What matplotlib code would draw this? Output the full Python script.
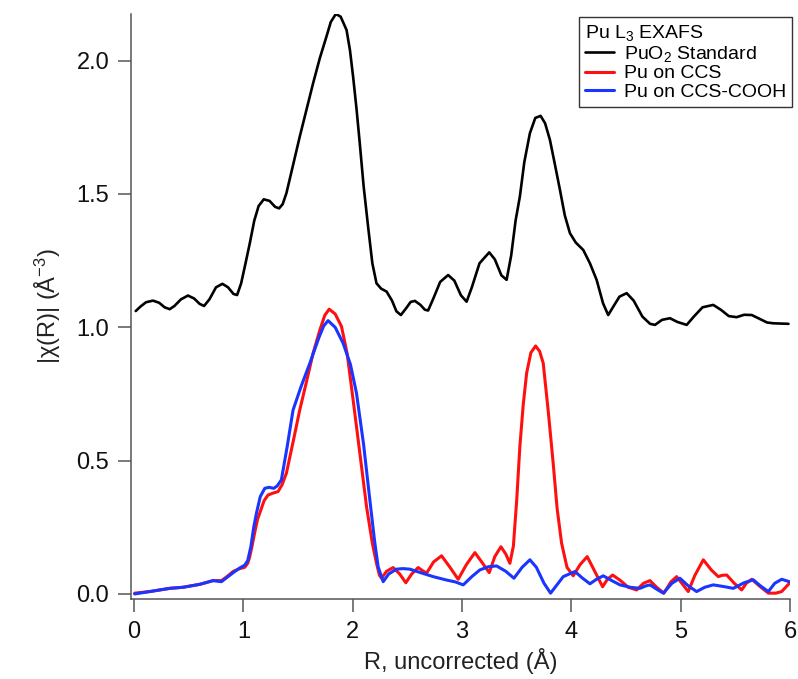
import matplotlib
matplotlib.use("Agg")
import matplotlib.pyplot as plt

# values (R in Å, |chi(R)| in Å^-3)
r_puo2 = [0.016, 0.06, 0.11, 0.174, 0.23, 0.28, 0.327, 0.37, 0.43, 0.494, 0.55, 0.60, 0.641,
          0.69, 0.75, 0.809, 0.86, 0.91, 0.943, 0.98, 1.02, 1.059, 1.10, 1.14, 1.187, 1.24,
          1.29, 1.327, 1.36, 1.394, 1.45, 1.516, 1.58, 1.638, 1.70, 1.760, 1.80, 1.846, 1.89,
          1.944, 1.975, 2.004, 2.035, 2.065, 2.10, 2.141, 2.18, 2.218, 2.26, 2.310, 2.36, 2.40,
          2.441, 2.49, 2.53, 2.569, 2.62, 2.66, 2.690, 2.74, 2.80, 2.873, 2.93, 2.99, 3.042,
          3.09, 3.16, 3.249, 3.30, 3.36, 3.408, 3.45, 3.49, 3.529, 3.57, 3.621, 3.67, 3.719,
          3.76, 3.804, 3.85, 3.896, 3.94, 3.987, 4.04, 4.109, 4.17, 4.231, 4.29, 4.337, 4.38,
          4.44, 4.506, 4.57, 4.65, 4.72, 4.765, 4.83, 4.902, 4.97, 5.055, 5.12, 5.20, 5.298,
          5.37, 5.44, 5.512, 5.58, 5.650, 5.73, 5.79, 5.848, 5.986]
chi_puo2 = [1.061, 1.078, 1.094, 1.100, 1.092, 1.075, 1.068, 1.080, 1.105, 1.119, 1.108, 1.088,
            1.080, 1.105, 1.150, 1.163, 1.150, 1.125, 1.121, 1.165, 1.240, 1.315, 1.400, 1.455,
            1.480, 1.474, 1.452, 1.446, 1.462, 1.503, 1.600, 1.715, 1.820, 1.915, 2.010, 2.090,
            2.145, 2.175, 2.165, 2.115, 2.04, 1.940, 1.82, 1.690, 1.53, 1.378, 1.24, 1.165,
            1.145, 1.134, 1.10, 1.06, 1.046, 1.072, 1.095, 1.099, 1.084, 1.066, 1.063, 1.11,
            1.17, 1.196, 1.175, 1.12, 1.096, 1.150, 1.240, 1.281, 1.255, 1.195, 1.178, 1.27,
            1.40, 1.490, 1.62, 1.728, 1.785, 1.793, 1.765, 1.703, 1.61, 1.515, 1.42, 1.353,
            1.318, 1.290, 1.24, 1.178, 1.09, 1.046, 1.075, 1.115, 1.128, 1.10, 1.04, 1.013,
            1.009, 1.028, 1.034, 1.020, 1.009, 1.04, 1.075, 1.084, 1.065, 1.042, 1.038, 1.047,
            1.046, 1.030, 1.018, 1.015, 1.013]

r_ccs = [0.006, 0.145, 0.327, 0.448, 0.601, 0.68, 0.723, 0.800, 0.85, 0.906, 0.96, 1.013,
         1.04, 1.059, 1.08, 1.104, 1.13, 1.150, 1.19, 1.226, 1.27, 1.318, 1.355, 1.394, 1.455,
         1.516, 1.58, 1.638, 1.70, 1.745, 1.785, 1.84, 1.898, 1.95, 2.004, 2.065, 2.127, 2.18,
         2.218, 2.245, 2.264, 2.31, 2.370, 2.43, 2.486, 2.54, 2.599, 2.64, 2.676, 2.74, 2.813,
         2.89, 2.965, 3.04, 3.118, 3.18, 3.249, 3.30, 3.356, 3.40, 3.438, 3.47, 3.50, 3.529,
         3.56, 3.591, 3.63, 3.673, 3.71, 3.743, 3.79, 3.834, 3.87, 3.911, 3.96, 4.017, 4.08,
         4.145, 4.22, 4.286, 4.33, 4.378, 4.45, 4.52, 4.597, 4.66, 4.719, 4.78, 4.847, 4.91,
         4.963, 5.02, 5.069, 5.13, 5.207, 5.28, 5.344, 5.38, 5.421, 5.49, 5.558, 5.60, 5.650,
         5.72, 5.802, 5.87, 5.924, 5.994]
chi_ccs = [0.003, 0.009, 0.021, 0.025, 0.036, 0.045, 0.050, 0.050, 0.065, 0.084, 0.094, 0.100,
           0.115, 0.140, 0.18, 0.23, 0.28, 0.303, 0.350, 0.371, 0.378, 0.384, 0.41, 0.453, 0.57,
           0.690, 0.800, 0.903, 0.990, 1.045, 1.068, 1.050, 1.003, 0.90, 0.728, 0.53, 0.327,
           0.19, 0.115, 0.07, 0.059, 0.085, 0.099, 0.075, 0.042, 0.075, 0.099, 0.087, 0.078,
           0.12, 0.143, 0.10, 0.055, 0.11, 0.155, 0.12, 0.080, 0.14, 0.177, 0.15, 0.115, 0.18,
           0.35, 0.552, 0.71, 0.828, 0.905, 0.930, 0.91, 0.865, 0.68, 0.490, 0.32, 0.190, 0.10,
           0.068, 0.11, 0.140, 0.08, 0.027, 0.055, 0.071, 0.05, 0.025, 0.015, 0.040, 0.050,
           0.025, 0.003, 0.045, 0.065, 0.035, 0.009, 0.07, 0.128, 0.09, 0.065, 0.070, 0.071,
           0.04, 0.015, 0.04, 0.055, 0.03, 0.003, 0.003, 0.009, 0.040]

r_cooh = [0.006, 0.145, 0.327, 0.448, 0.601, 0.723, 0.800, 0.86, 0.921, 0.97, 1.013, 1.04,
          1.07, 1.095, 1.120, 1.155, 1.196, 1.235, 1.278, 1.31, 1.348, 1.40, 1.455, 1.530,
          1.608, 1.69, 1.735, 1.775, 1.84, 1.913, 1.98, 2.035, 2.10, 2.157, 2.20, 2.233, 2.279,
          2.33, 2.401, 2.46, 2.523, 2.62, 2.736, 2.86, 2.940, 3.011, 3.09, 3.163, 3.240, 3.316,
          3.40, 3.475, 3.55, 3.621, 3.68, 3.75, 3.810, 3.87, 3.926, 4.033, 4.10, 4.170, 4.23,
          4.292, 4.37, 4.445, 4.54, 4.628, 4.68, 4.719, 4.78, 4.841, 4.92, 4.993, 5.07, 5.146,
          5.22, 5.298, 5.39, 5.481, 5.58, 5.664, 5.73, 5.802, 5.86, 5.924, 5.994]
chi_cooh = [0.000, 0.009, 0.021, 0.025, 0.036, 0.050, 0.046, 0.065, 0.084, 0.098, 0.108, 0.125,
            0.18, 0.25, 0.303, 0.365, 0.396, 0.400, 0.396, 0.405, 0.428, 0.55, 0.690, 0.780,
            0.865, 0.960, 1.005, 1.025, 1.000, 0.940, 0.86, 0.753, 0.56, 0.353, 0.20, 0.102,
            0.046, 0.075, 0.093, 0.095, 0.093, 0.080, 0.065, 0.052, 0.045, 0.034, 0.065, 0.090,
            0.102, 0.105, 0.085, 0.059, 0.100, 0.128, 0.100, 0.040, 0.003, 0.035, 0.065, 0.084,
            0.06, 0.038, 0.055, 0.068, 0.05, 0.034, 0.025, 0.021, 0.030, 0.034, 0.018, 0.003,
            0.040, 0.059, 0.03, 0.009, 0.025, 0.034, 0.028, 0.021, 0.042, 0.053, 0.03, 0.009,
            0.04, 0.055, 0.046]

labels = ["PuO$_\\mathregular{2}$ Standard", "Pu on CCS", "Pu on CCS-COOH"]
x_ticks = [0, 1, 2, 3, 4, 5, 6]
y_ticks = [0.0, 0.5, 1.0, 1.5, 2.0]

plt.rcParams['font.family'] = ['Liberation Sans', 'DejaVu Sans']
plt.rcParams['mathtext.fontset'] = 'custom'
plt.rcParams['mathtext.rm'] = 'Liberation Sans'
plt.rcParams['mathtext.it'] = 'Liberation Sans:italic'
plt.rcParams['lines.solid_joinstyle'] = 'round'
plt.rcParams['lines.solid_capstyle'] = 'round'

fig = plt.figure(figsize=(7.98, 6.79), dpi=100)
ax = fig.add_axes([0.1638, 0.1178, 0.8262, 0.8616])

ax.plot(r_puo2, chi_puo2, color='black', lw=1.9, label=labels[0])
ax.plot(r_ccs, chi_ccs, color='#ff1010', lw=2.2, label=labels[1])
ax.plot(r_cooh, chi_cooh, color='#1a35ff', lw=2.2, label=labels[2])

ax.set_xlim(-0.03, 6.0)
ax.set_ylim(-0.019, 2.175)
ax.set_xticks(x_ticks)
ax.set_yticks(y_ticks)
ax.set_xticklabels([str(t) for t in x_ticks])
ax.set_yticklabels(['%.1f' % t for t in y_ticks])

gray = '#555555'
for side in ['top', 'right']:
    ax.spines[side].set_visible(False)
for side in ['left', 'bottom']:
    ax.spines[side].set_color(gray)
    ax.spines[side].set_linewidth(1.1)
ax.tick_params(direction='out', length=9.5, width=1.1, color=gray,
               labelsize=17, pad=6, labelcolor='#111111')

ax.set_xlabel('R, uncorrected (Å)', fontsize=17, labelpad=4, color='#222222')
ax.set_ylabel('|χ(R)| (Å$^{\\mathregular{-3}}$)', fontsize=17, labelpad=10, color='#222222')

leg = ax.legend(loc='upper right', bbox_to_anchor=(792 / 798, 1 - 17 / 679),
                bbox_transform=fig.transFigure, borderaxespad=0,
                title='Pu L$_\\mathregular{3}$ EXAFS', title_fontsize=14, fontsize=14,
                alignment='left', fancybox=False, framealpha=1, edgecolor='#333333',
                handlelength=1.5, handletextpad=0.5, labelspacing=0.05,
                borderpad=0.3)
leg.get_frame().set_linewidth(1.0)

fig.savefig('out.png', dpi=100)
